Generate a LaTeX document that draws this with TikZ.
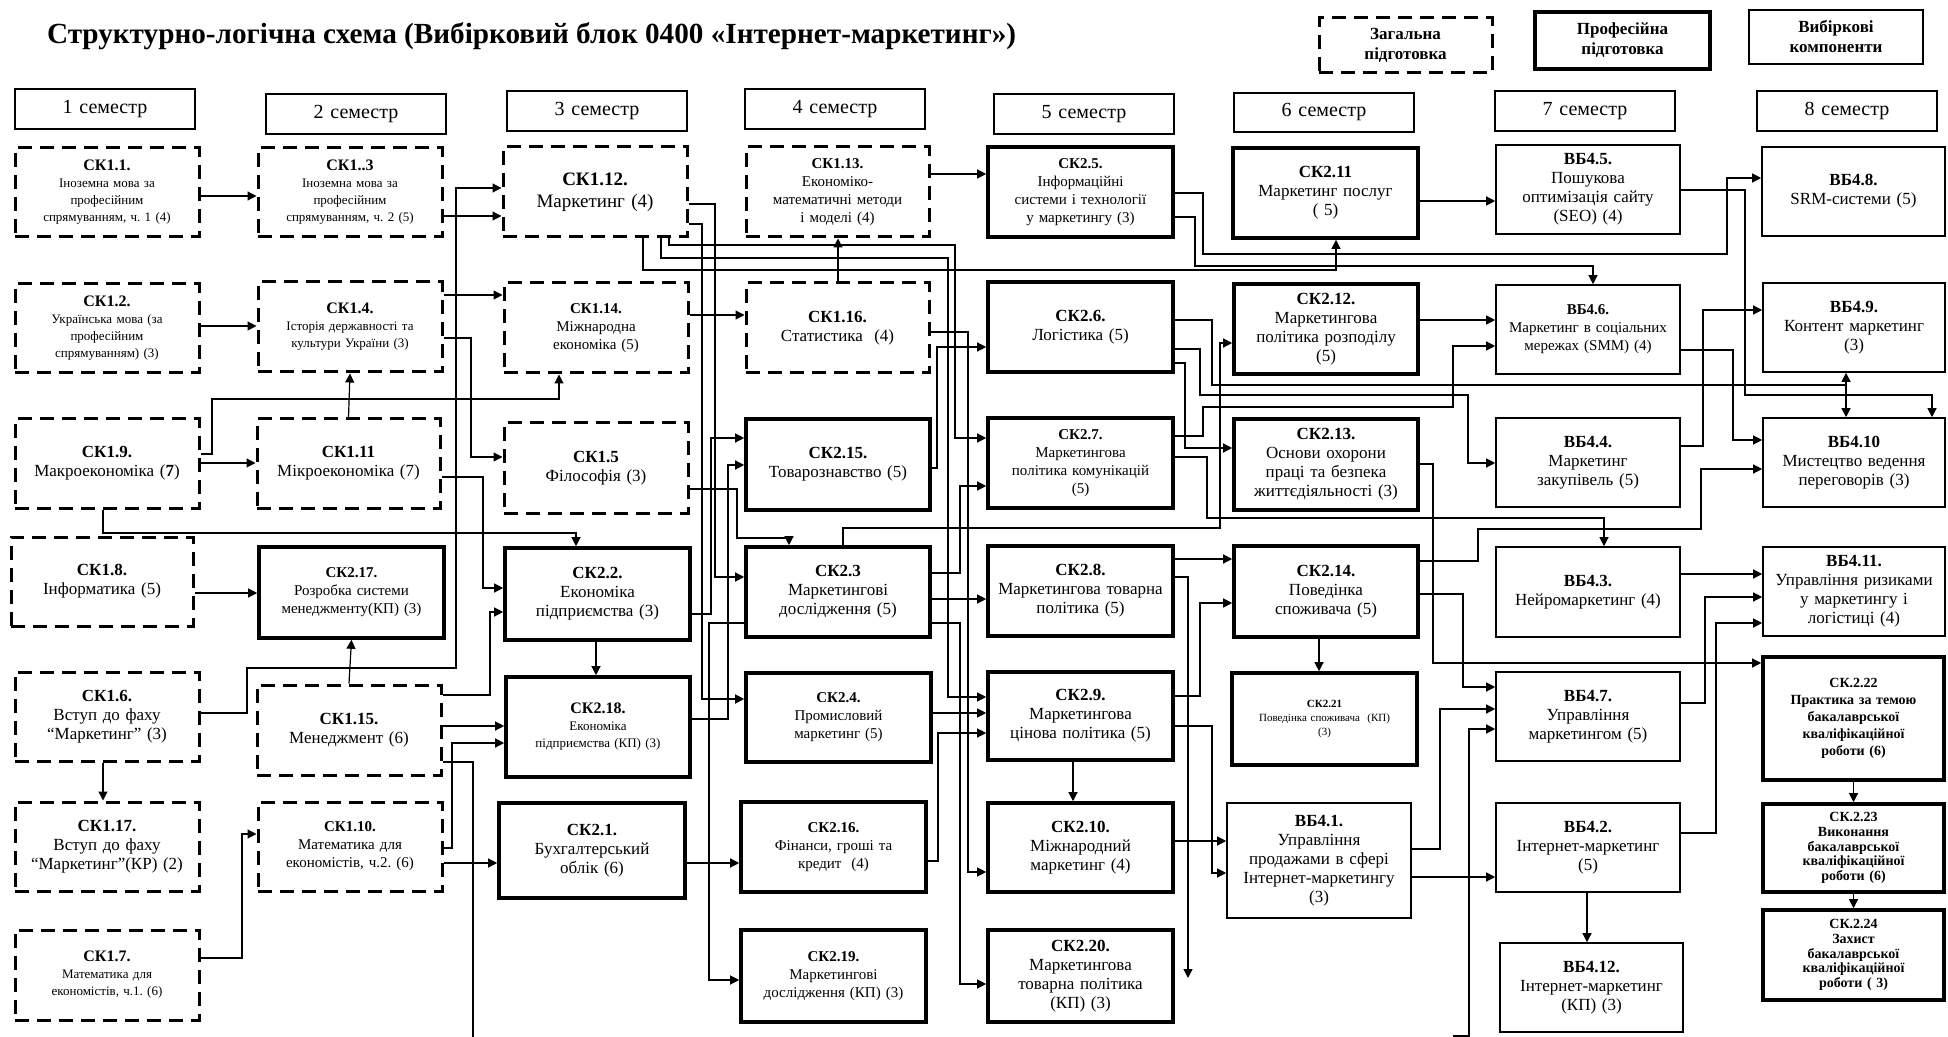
\documentclass[tikz,border=0pt]{standalone}
\usepackage{fontspec}
\setmainfont{Liberation Serif}
\usetikzlibrary{arrows.meta}
\frenchspacing

\newcommand\kod[1]{\textbf{\fontsize{8}{9}\selectfont #1}}

\tikzset{
  bx/.style n args={4}{minimum width={(#3-#1)*0.5pt}, minimum height={(#4-#2)*0.5pt},
    at={({(#1+#3)/2},{(#2+#4)/2})}},
  box/.style={rectangle, inner sep=0pt, align=center, text width=88pt, font=\fontsize{7.5}{9}\selectfont},
  gen/.style={box, draw, line width=1.5pt, dash pattern=on 7pt off 4pt},
  prof/.style={box, draw, line width=1.8pt},
  vyb/.style={box, draw, line width=0.8pt},
  sem/.style={box, draw, line width=0.8pt, font=\fontsize{10}{12}\selectfont},
  lgd/.style={text width=80pt, font=\bfseries\fontsize{8.5}{10}\selectfont},
  sm/.style={font=\fontsize{6.5}{8.5}\selectfont},
  bg/.style={font=\fontsize{8.5}{9.5}\selectfont},
  arr/.style={line width=0.6pt, -{Triangle[length=4.5pt,width=4.5pt]}},
  ln/.style={line width=0.6pt}
}

\begin{document}
\frenchspacing
\begin{tikzpicture}[x=0.5pt, y=-0.5pt]
\useasboundingbox (0,0) rectangle (1948,1037);

\node[anchor=west, font=\bfseries\fontsize{14.6}{17}\selectfont] (title) at (40,36)
  {Структурно-логічна схема (Вибірковий блок 0400 «Інтернет-маркетинг»)};

\node[gen, lgd, bx={1319}{18}{1492}{73}] (lgen) {Загальна\\ підготовка};
\node[prof, lgd, bx={1535}{12}{1710}{69}] (lprof) {Професійна\\ підготовка};
\node[vyb, lgd, bx={1749}{10}{1923}{64}] (lvyb) {Вибіркові\\ компоненти};

\node[sem, bx={15}{89}{195}{129}] (s1) {1 семестр};
\node[sem, bx={266}{94}{446}{134}] (s2) {2 семестр};
\node[sem, bx={507}{91}{687}{131}] (s3) {3 семестр};
\node[sem, bx={745}{89}{925}{129}] (s4) {4 семестр};
\node[sem, bx={994}{94}{1174}{134}] (s5) {5 семестр};
\node[sem, bx={1234}{93}{1414}{132}] (s6) {6 семестр};
\node[sem, bx={1495}{91}{1675}{131}] (s7) {7 семестр};
\node[sem, bx={1757}{91}{1937}{131}] (s8) {8 семестр};

% 1 семестр
\node[gen, sm, bx={15}{148}{199}{237}] (sk11) {\kod{СК1.1.}\\ Іноземна мова за\\ професійним\\ спрямуванням, ч. 1 (4)};
\node[gen, sm, bx={15}{284}{199}{373}] (sk12) {\kod{СК1.2.}\\ Українська мова (за\\ професійним\\ спрямуванням) (3)};
\node[gen, bg, bx={15}{419}{199}{508}] (sk19) {\textbf{СК1.9.}\\ Макроекономіка (\textbf{7})};
\node[gen, bg, bx={11}{537}{193}{626}] (sk18) {\textbf{СК1.8.}\\ Інформатика (5)};
\node[gen, bg, bx={15}{672}{199}{761}] (sk16) {\textbf{СК1.6.}\\ Вступ до фаху\\ “Маркетинг” (3)};
\node[gen, bg, bx={15}{802}{199}{891}] (sk117) {\textbf{СК1.17.}\\ Вступ до фаху\\ “Маркетинг”(КР) (2)};
\node[gen, sm, bx={15}{930}{199}{1020}] (sk17) {\kod{СК1.7.}\\ Математика для\\ економістів, ч.1. (6)};

% 2 семестр
\node[gen, sm, bx={258}{148}{442}{237}] (sk13) {\kod{СК1..3}\\ Іноземна мова за\\ професійним\\ спрямуванням, ч. 2 (5)};
\node[gen, sm, bx={258}{282}{442}{372}] (sk14) {\kod{СК1.4.}\\ Історія державності та\\ культури України (3)};
\node[gen, bg, bx={257}{419}{440}{508}] (sk111) {\textbf{СК1.11}\\ Мікроекономіка (7)};
\node[prof, bx={259}{547}{444}{638}] (sk217) {\textbf{СК2.17.}\\ Розробка системи\\ менеджменту(КП) (3)};
\node[gen, bg, bx={257}{685}{441}{775}] (sk115) {\textbf{СК1.15.}\\ Менеджмент (6)};
\node[gen, bx={258}{802}{442}{891}] (sk110) {\textbf{СК1.10.}\\ Математика для\\ економістів, ч.2. (6)};

% 3 семестр
\node[gen, font=\fontsize{9.5}{11}\selectfont, bx={503}{147}{687}{237}] (sk112) {\textbf{СК1.12.}\\ Маркетинг (4)};
\node[gen, bx={504}{283}{688}{373}] (sk114) {\textbf{СК1.14.}\\ Міжнародна\\ економіка (5)};
\node[gen, bg, bx={504}{423}{688}{513}] (sk15) {\textbf{СК1.5}\\ Філософія (3)};
\node[prof, bg, bx={505}{548}{690}{640}] (sk22) {\textbf{СК2.2.}\\ Економіка\\ підприємства (3)};
\node[prof, sm, bx={506}{677}{690}{777}] (sk218) {\kod{СК2.18.}\\ Економіка\\ підприємства (КП) (3)};
\node[prof, bg, bx={499}{803}{685}{898}] (sk21) {\textbf{СК2.1.}\\ Бухгалтерський\\ облік (6)};

% 4 семестр
\node[gen, bx={746}{147}{929}{237}] (sk113) {\textbf{СК1.13.}\\ Економіко-\\ математичні методи\\ і моделі (4)};
\node[gen, bg, bx={746}{283}{929}{373}] (sk116) {\textbf{СК1.16.}\\ Статистика~ (4)};
\node[prof, bg, bx={746}{419}{930}{510}] (sk215) {\textbf{СК2.15.}\\ Товарознавство (5)};
\node[prof, bg, bx={746}{547}{930}{637}] (sk23) {\textbf{СК2.3}\\ Маркетингові\\ дослідження (5)};
\node[prof, bx={746}{673}{931}{762}] (sk24) {\textbf{СК2.4.}\\ Промисловий\\ маркетинг (5)};
\node[prof, bx={741}{802}{926}{892}] (sk216) {\textbf{СК2.16.}\\ Фінанси, гроші та\\ кредит~ (4)\\[12pt]};
\node[prof, bx={741}{930}{926}{1022}] (sk219) {\textbf{СК2.19.}\\ Маркетингові\\ дослідження (КП) (3)\\[12pt]};

% 5 семестр
\node[prof, bx={988}{147}{1173}{237}] (sk25) {\textbf{СК2.5.}\\ Інформаційні\\ системи і технології\\ у маркетингу (3)};
\node[prof, bg, bx={988}{282}{1173}{372}] (sk26) {\textbf{СК2.6.}\\ Логістика (5)};
\node[prof, bx={988}{418}{1173}{508}] (sk27) {\textbf{СК2.7.}\\ Маркетингова\\ політика комунікацій\\ (5)};
\node[prof, bg, bx={988}{546}{1173}{636}] (sk28) {\textbf{СК2.8.}\\ Маркетингова товарна\\ політика (5)};
\node[prof, bg, bx={988}{672}{1173}{760}] (sk29) {\textbf{СК2.9.}\\ Маркетингова\\ цінова політика (5)};
\node[prof, bg, bx={988}{803}{1173}{892}] (sk210) {\textbf{СК2.10.}\\ Міжнародний\\ маркетинг (4)};
\node[prof, bg, bx={988}{930}{1173}{1022}] (sk220) {\textbf{СК2.20.}\\ Маркетингова\\ товарна політика\\ (КП) (3)};

% 6 семестр
\node[prof, bg, bx={1233}{148}{1418}{238}] (sk211) {\textbf{СК2.11}\\ Маркетинг послуг\\ ( 5)};
\node[prof, bg, bx={1234}{284}{1418}{374}] (sk212) {\textbf{СК2.12.}\\ Маркетингова\\ політика розподілу\\ (5)};
\node[prof, bg, bx={1234}{419}{1418}{510}] (sk213) {\textbf{СК2.13.}\\ Основи охорони\\ праці та безпека\\ життєдіяльності (3)};
\node[prof, bg, bx={1234}{546}{1418}{637}] (sk214) {\textbf{СК2.14.}\\ Поведінка\\ споживача (5)};
\node[prof, font=\fontsize{5.5}{7}\selectfont, bx={1232}{673}{1417}{765}] (sk221) {\textbf{СК2.21}\\ Поведінка споживача~ (КП)\\ (3)};
\node[vyb, bg, bx={1227}{803}{1411}{918}] (vb41) {\textbf{ВБ4.1.}\\ Управління\\ продажами в сфері\\ Інтернет-маркетингу\\ (3)};

% 7 семестр
\node[vyb, bg, bx={1496}{145}{1680}{234}] (vb45) {\textbf{ВБ4.5.}\\ Пошукова\\ оптимізація сайту\\ (SEO) (4)};
\node[vyb, bx={1496}{285}{1680}{374}] (vb46) {\textbf{ВБ4.6.}\\ Маркетинг в соціальних\\ мережах (SMM) (4)\\[7pt]};
\node[vyb, bg, bx={1496}{418}{1680}{507}] (vb44) {\textbf{ВБ4.4.}\\ Маркетинг\\ закупівель (5)};
\node[vyb, bg, bx={1496}{547}{1680}{637}] (vb43) {\textbf{ВБ4.3.}\\ Нейромаркетинг (4)\\[6pt]};
\node[vyb, bg, bx={1496}{672}{1680}{761}] (vb47) {\textbf{ВБ4.7.}\\ Управління\\ маркетингом (5)\\[7pt]};
\node[vyb, bg, bx={1496}{803}{1680}{892}] (vb42) {\textbf{ВБ4.2.}\\ Інтернет-маркетинг\\ (5)\\[6pt]};
\node[vyb, bg, bx={1500}{943}{1683}{1032}] (vb412) {\textbf{ВБ4.12.}\\ Інтернет-маркетинг\\ (КП) (3)\\[6pt]};

% 8 семестр
\node[vyb, bg, bx={1762}{147}{1945}{236}] (vb48) {\textbf{ВБ4.8.}\\ SRM-системи (5)\\[6pt]};
\node[vyb, bg, bx={1763}{283}{1945}{372}] (vb49) {\textbf{ВБ4.9.}\\ Контент маркетинг\\ (3)};
\node[vyb, bg, bx={1763}{418}{1945}{507}] (vb410) {\textbf{ВБ4.10}\\ Мистецтво ведення\\ переговорів (3)};
\node[vyb, bg, bx={1763}{547}{1945}{636}] (vb411) {\textbf{ВБ4.11.}\\ Управління ризиками\\ у маркетингу і\\ логістиці (4)};
\node[prof, font=\bfseries\fontsize{7}{8.5}\selectfont, bx={1763}{657}{1944}{780}] (sk222) {СК.2.22\\ Практика за темою\\ бакалаврської\\ кваліфікаційної\\ роботи (6)};
\node[prof, font=\bfseries\fontsize{7}{7.4}\selectfont, bx={1763}{804}{1944}{892}] (sk223) {СК.2.23\\ Виконання\\ бакалаврської\\ кваліфікаційної\\ роботи (6)};
\node[prof, font=\bfseries\fontsize{7}{7.4}\selectfont, bx={1763}{910}{1944}{1000}] (sk224) {СК.2.24\\ Захист\\ бакалаврської\\ кваліфікаційної\\ роботи ( 3)};

\coordinate (bot1) at (473,1037);
\coordinate (bot2) at (1453,1036);
\coordinate (end1) at (1188,978);
\coordinate (j1) at (1846,385);

% 1 -> 2
\draw[arr] (sk11.east |- 0,196) -- (sk13.west |- 0,196);
\draw[arr] (sk12.east |- 0,326) -- (sk14.west |- 0,326);
\draw[arr] (sk19.east |- 0,463) -- (sk111.west |- 0,463);
\draw[arr] (sk18.east |- 0,593) -- (sk217.west |- 0,593);
\draw[arr] (sk16.south -| 103,0) -- (sk117.north -| 103,0);
\draw[arr] (sk17.east |- 0,958) -| (242,834) -- (sk110.west |- 0,834);
\draw[arr] (sk111.north) -- (sk14.south);
\draw[arr] (sk115.north) -- (sk217.south);

% 2 -> 3
\draw[arr] (sk13.east |- 0,216) -- (sk112.west |- 0,216);
\draw[arr] (sk16.east |- 0,713) -| (247,668) -| (456,188) -- (sk112.west |- 0,188);
\draw[arr] (sk14.east |- 0,295) -- (sk114.west |- 0,295);
\draw[arr] (sk14.east |- 0,338) -| (471,457) -- (sk15.west |- 0,457);
\draw[arr] (sk19.east |- 0,454) -| (212,399) -| (sk114.south -| 559,0);
\draw[arr] (sk19.south -| 103,0) |- (576,533) -- (sk22.north -| 576,0);
\draw[arr] (sk111.east |- 0,477) -| (483,588) -- (sk22.west |- 0,588);
\draw[arr] (sk115.east |- 0,695) -| (490,612) -- (sk22.west |- 0,612);
\draw[arr] (sk115.east |- 0,726) -- (sk218.west |- 0,726);
\draw[arr] (sk110.east |- 0,848) -| (452,743) -- (sk218.west |- 0,743);
\draw[arr] (sk110.east |- 0,863) -- (sk21.west |- 0,863);
\draw[ln] (sk115.east |- 0,762) -| (bot1);
\draw[arr] (sk22.south -| 596,0) -- (sk218.north -| 596,0);

% 3 -> 4
\draw[arr] (sk114.east |- 0,315) -- (sk116.west |- 0,315);
\draw[arr] (sk116.north -| 838,0) -- (sk113.south -| 838,0);
\draw[arr] (sk112.east |- 0,204) -| (715,577) -- (sk23.west |- 0,577);
\draw[arr] (sk112.east |- 0,224) -| (702,699) -- (sk24.west |- 0,699);
\draw[arr] (sk15.east |- 0,489) -| (737,538) -| (sk23.north -| 789,0);
\draw[arr] (sk22.east |- 0,614) -| (711,438) -- (sk215.west |- 0,438);
\draw[arr] (sk218.east |- 0,719) -| (728,465) -- (sk215.west |- 0,465);
\draw[arr] (sk23.west |- 0,623) -| (709,980) -- (sk219.west |- 0,980);
\draw[arr] (sk21.east |- 0,863) -- (sk216.west |- 0,863);

% 4 -> 5
\draw[arr] (sk113.east |- 0,174) -- (sk25.west |- 0,174);
\draw[arr] (sk112.south -| 643,0) |- (1336,270) -- (sk211.south -| 1336,0);
\draw[arr] (sk112.south -| 661,0) |- (948,258) |- (sk29.west |- 0,697);
\draw[arr] (sk112.south -| 669,0) |- (955,245) |- (sk27.west |- 0,438);
\draw[arr] (sk215.east |- 0,468) -| (937,347) -- (sk26.west |- 0,347);
\draw[arr] (sk116.east |- 0,332) -| (968,872) -- (sk210.west |- 0,872);
\draw[arr] (sk23.east |- 0,573) -| (960,486) -- (sk27.west |- 0,486);
\draw[arr] (sk23.east |- 0,599) -- (sk28.west |- 0,599);
\draw[arr] (sk23.east |- 0,623) -| (960,984) -- (sk220.west |- 0,984);
\draw[arr] (sk24.east |- 0,713) -- (sk29.west |- 0,713);
\draw[arr] (sk216.east |- 0,861) -| (938,733) -- (sk29.west |- 0,733);
\draw[arr] (sk23.north -| 843,0) |- (1220,528) |- (sk212.west |- 0,343);

% 5 -> 6, 7, 8
\draw[arr] (sk25.east |- 0,193) -| (1203,254) -| (1727,178) -- (vb48.west |- 0,178);
\draw[arr] (sk25.east |- 0,217) -| (1195,266) -| (vb46.north -| 1593,0);
\draw[arr] (sk26.east |- 0,320) -| (1212,385) -| (vb49.south -| 1846,0);
\draw[arr] (j1) -- (vb410.north -| 1846,0);
\draw[arr] (sk26.east |- 0,349) -| (1200,395) -| (1468,463) -- (vb44.west |- 0,463);
\draw[arr] (sk26.east |- 0,363) -| (1185,448) -- (sk213.west |- 0,448);
\draw[arr] (sk27.east |- 0,436) -| (1203,407) -| (1453,346) -- (vb46.west |- 0,346);
\draw[arr] (sk27.east |- 0,457) -| (1207,518) -| (vb43.north -| 1604,0);
\draw[arr] (sk28.east |- 0,559) -- (sk214.west |- 0,559);
\draw[arr] (sk29.east |- 0,696) -| (1200,603) -- (sk214.west |- 0,603);
\draw[arr] (sk28.east |- 0,577) -| (end1);
\draw[arr] (sk29.east |- 0,726) -| (1212,873) -- (vb41.west |- 0,873);
\draw[arr] (sk210.east |- 0,841) -- (vb41.west |- 0,841);
\draw[arr] (sk29.south -| 1073,0) -- (sk210.north -| 1073,0);

% 6 -> 7, 8
\draw[arr] (sk211.east |- 0,201) -- (vb45.west |- 0,201);
\draw[arr] (sk212.east |- 0,320) -- (vb46.west |- 0,320);
\draw[arr] (sk213.east |- 0,464) -| (1433,663) -- (sk222.west |- 0,663);
\draw[arr] (sk214.east |- 0,594) -| (1463,687) -- (vb47.west |- 0,687);
\draw[arr] (sk214.east |- 0,561) -| (1478,529) -| (1701,469) -- (vb410.west |- 0,469);
\draw[arr] (sk214.south -| 1319,0) -- (sk221.north -| 1319,0);
\draw[arr] (vb41.east |- 0,849) -| (1440,709) -- (vb47.west |- 0,709);
\draw[arr] (vb41.east |- 0,877) -- (vb42.west |- 0,877);
\draw[arr] (bot2) -| (1469,729) -- (vb47.west |- 0,729);

% 7 -> 8
\draw[arr] (vb45.east |- 0,190) -| (1745,395) -| (vb410.north -| 1932,0);
\draw[arr] (vb46.east |- 0,350) -| (1733,440) -- (vb410.west |- 0,440);
\draw[arr] (vb44.east |- 0,446) -| (1703,310) -- (vb49.west |- 0,310);
\draw[arr] (vb43.east |- 0,574) -- (vb411.west |- 0,574);
\draw[arr] (vb47.east |- 0,703) -| (1705,597) -- (vb411.west |- 0,597);
\draw[arr] (vb42.east |- 0,833) -| (1716,623) -- (vb411.west |- 0,623);
\draw[arr] (vb42.south -| 1587,0) -- (vb412.north -| 1587,0);
\draw[arr] (sk222.south) -- (sk223.north);
\draw[arr] (sk223.south) -- (sk224.north);
\end{tikzpicture}
\end{document}
